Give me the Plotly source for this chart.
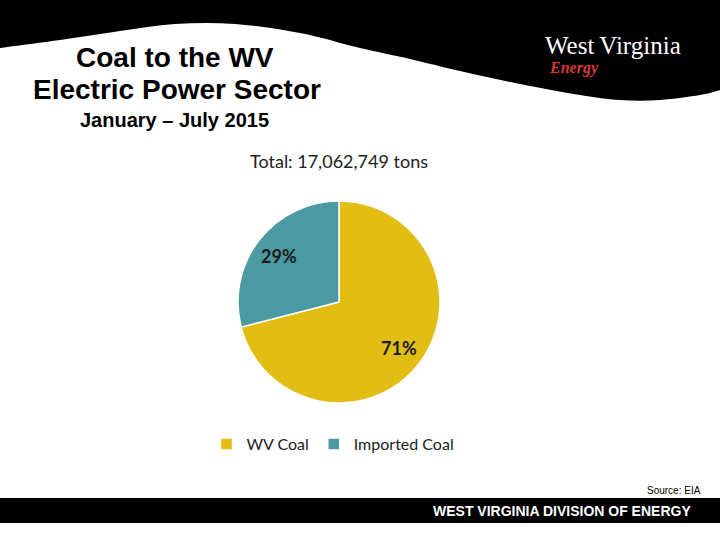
import math
import plotly.graph_objects as go

W, H = 720, 540

def X(px):
    return px / W

def Y(py):
    return 1 - py / H

# ---- data ----
categories = ["WV Coal", "Imported Coal"]
shares = [71, 29]
colors = ["#E2BD14", "#4A99A3"]
total_label = "Total: 17,062,749 tons"

# pie geometry (pixels)
PIE_CX, PIE_CY, PIE_R = 339, 302, 101

# ---- header wave (decorative) ----
wave_pts = [(0, 48), (60, 40), (120, 31), (175, 24), (235, 24), (300, 33),
            (360, 48), (410, 59), (460, 71), (520, 84), (580, 95),
            (620, 100), (660, 100), (700, 95), (720, 90)]

def smooth_path(pts):
    p = [(X(a), Y(b)) for a, b in pts]
    d = f"M {X(720)},{Y(0)} L {X(0)},{Y(0)} L {p[0][0]},{p[0][1]}"
    for i in range(len(p) - 1):
        p0 = p[i - 1] if i > 0 else p[i]
        p1 = p[i]
        p2 = p[i + 1]
        p3 = p[i + 2] if i + 2 < len(p) else p[i + 1]
        c1 = (p1[0] + (p2[0] - p0[0]) / 6, p1[1] + (p2[1] - p0[1]) / 6)
        c2 = (p2[0] - (p3[0] - p1[0]) / 6, p2[1] - (p3[1] - p1[1]) / 6)
        d += f" C {c1[0]},{c1[1]} {c2[0]},{c2[1]} {p2[0]},{p2[1]}"
    d += " Z"
    return d

fig = go.Figure()
fig.add_trace(go.Pie(
    labels=categories,
    values=shares,
    marker=dict(colors=colors, line=dict(color="white", width=1.5)),
    sort=False,
    direction="clockwise",
    rotation=0,
    textinfo="none",
    domain=dict(x=[X(PIE_CX - PIE_R), X(PIE_CX + PIE_R)],
                y=[Y(PIE_CY + PIE_R), Y(PIE_CY - PIE_R)]),
    hoverinfo="label+percent",
))

shapes = [
    dict(type="path", xref="paper", yref="paper", path=smooth_path(wave_pts),
         fillcolor="black", line=dict(width=0), layer="below"),
    dict(type="rect", xref="paper", yref="paper", x0=0, x1=1, y0=Y(523), y1=Y(498),
         fillcolor="black", line=dict(width=0), layer="below"),
]

TITLE_FONT = "Liberation Sans, Arial"
annotations = [
    dict(text="Coal to the WV", x=X(175), y=Y(58), font=dict(family=TITLE_FONT, size=28, color="black", weight="bold")),
    dict(text="Electric Power Sector", x=X(177), y=Y(90), font=dict(family=TITLE_FONT, size=28, color="black", weight="bold")),
    dict(text="January – July 2015", x=X(174), y=Y(120), font=dict(family=TITLE_FONT, size=20, color="black", weight="bold")),
    dict(text="West\u2009Virginia", x=X(543), y=Y(46), xanchor="left", font=dict(family="Liberation Serif", size=25, color="white")),
    dict(text="<i>Energy</i>", x=X(547), y=Y(68), xanchor="left", font=dict(family="Liberation Serif", size=16, color="#D8373A", weight="bold")),
    dict(text=total_label, x=X(339), y=Y(161), font=dict(family="Lato", size=18, color="#222222")),
    dict(text="Source: EIA", x=X(703), y=Y(490), xanchor="right", font=dict(family=TITLE_FONT, size=10, color="black")),
    dict(text="<b>WEST VIRGINIA DIVISION OF ENERGY</b>", x=X(693), y=Y(510.5), xanchor="right", font=dict(family=TITLE_FONT, size=14, color="white")),
]

# slice percentage labels, placed at each slice's mid-angle
tot = sum(shares)
cum = 0
for v in shares:
    mid = (cum + v / 2) / tot * 2 * math.pi
    cum += v
    r = 0.75 * PIE_R
    px = PIE_CX + r * math.sin(mid)
    py = PIE_CY - r * math.cos(mid)
    annotations.append(dict(text=f"{round(v / tot * 100)}%", x=X(px), y=Y(py),
                            font=dict(family="Lato", size=18, color="#1a1a1a", weight="bold")))

for a in annotations:
    a.setdefault("xanchor", "center")
    a.update(xref="paper", yref="paper", yanchor="middle", showarrow=False)

fig.update_layout(
    width=W, height=H,
    margin=dict(l=0, r=0, t=0, b=0),
    paper_bgcolor="white",
    plot_bgcolor="white",
    shapes=shapes,
    annotations=annotations,
    showlegend=True,
    legend=dict(orientation="h", x=X(333), xanchor="center", y=Y(444), yanchor="middle",
                font=dict(family="Lato", size=16, color="#222222"), bgcolor="rgba(0,0,0,0)"),
)

fig.write_html("out.html", config={"displayModeBar": False},
               post_script="document.body.style.margin='0';document.body.style.overflow='hidden';")
